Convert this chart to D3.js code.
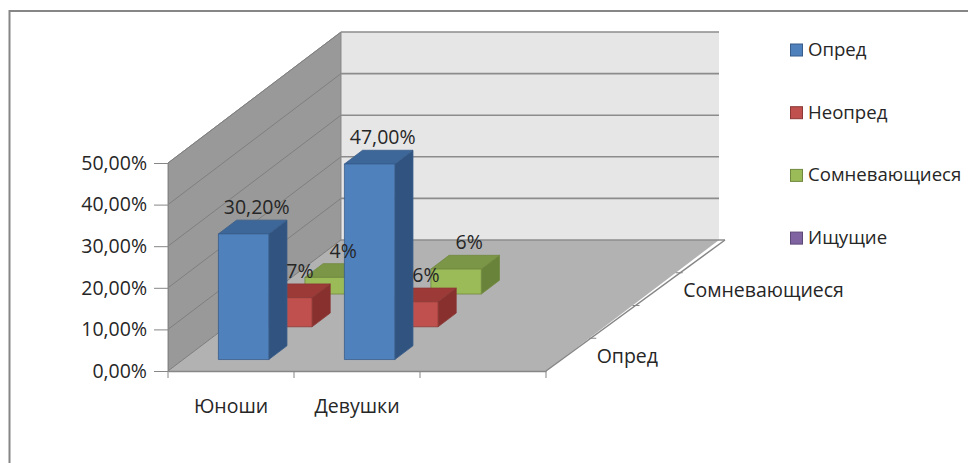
<!DOCTYPE html>
<html>
<head>
<meta charset="utf-8">
<script src="https://cdn.jsdelivr.net/npm/d3@7"></script>
<style>
  html, body { margin: 0; padding: 0; background: #fff; }
  svg { display: block; font-family: "Open Sans", sans-serif; }
</style>
</head>
<body>
<svg width="968" height="463"></svg>
<script>
// categories along the front axis (third slot is empty)
var categories = ["Юноши", "Девушки", ""];
// series run front-to-back along the depth axis
var seriesNames = ["Опред", "Неопред", "Сомневающиеся", "Ищущие"];
var opred = [30.2, 47, null];
var neopred = [7, 6, null];
var somnev = [4, 6, null];
var ishchut = [null, null, null];
var seriesDecimals = [2, 0, 0, 0];
var yTicks = [0, 10, 20, 30, 40, 50];

var seriesValues = [opred, neopred, somnev, ishchut];

var colors = [
  { front: "#4f81bd", top: "#3d6798", side: "#30547f", line: "#385d8a" },
  { front: "#c0504d", top: "#9c3a37", side: "#87302e", line: "#8c3836" },
  { front: "#9bbb59", top: "#7b9646", side: "#6a833a", line: "#71893f" },
  { front: "#8064a2", top: "#654e82", side: "#57426f", line: "#5c4776" }
];
var FS = 19.5;
var textColor = "#262626";

var svg = d3.select("svg");

// outer frame
svg.append("rect")
  .attr("x", 9.5).attr("y", 11)
  .attr("width", 1000).attr("height", 500)
  .attr("fill", "none")
  .attr("stroke", "#868686")
  .attr("stroke-width", 2);

var x = d3.scaleBand().domain(d3.range(categories.length)).range([168, 546]);
var y = d3.scaleLinear().domain([0, 50]).range([371, 163]);
// depth slots -> screen offset
var depth = d3.scaleLinear().domain([0, seriesNames.length]).range([0, 1]);
var depthDx = 173, depthDy = -131;

function P(px, v, t) {
  var f = depth(t);
  return [px + f * depthDx, y(v) + f * depthDy];
}
function poly(pts) {
  return "M" + pts.map(function(p) { return p[0] + "," + p[1]; }).join("L") + "Z";
}

var x0 = x.range()[0], x1 = x.range()[1], nD = seriesNames.length;

// side wall
svg.append("path")
  .attr("d", poly([P(x0, 0, 0), P(x0, 50, 0), P(x0, 50, nD), P(x0, 0, nD)]))
  .attr("fill", "#999999")
  .attr("stroke", "#8a8a8a");

// back wall
svg.append("path")
  .attr("d", poly([P(x0, 0, nD), P(x0, 50, nD), P(x1, 50, nD), P(x1, 0, nD)]))
  .attr("fill", "#e6e6e6");

// floor
svg.append("path")
  .attr("d", poly([P(x0, 0, 0), P(x1, 0, 0), P(x1, 0, nD), P(x0, 0, nD)]))
  .attr("fill", "#b2b2b2");

// gridlines on both walls
var grid = svg.append("g");
yTicks.forEach(function(v) {
  var a = P(x0, v, 0), b = P(x0, v, nD), c = P(x1, v, nD);
  grid.append("line")
    .attr("x1", a[0]).attr("y1", a[1]).attr("x2", b[0]).attr("y2", b[1])
    .attr("stroke", "#7f7f7f").attr("stroke-width", 1);
  grid.append("line")
    .attr("x1", b[0]).attr("y1", b[1]).attr("x2", c[0] + (v === 0 ? 6 : 0)).attr("y2", c[1])
    .attr("stroke", "#8c8c8c").attr("stroke-width", 1.6);
});
// back wall left edge
(function() {
  var a = P(x0, 0, nD), b = P(x0, 50, nD);
  grid.append("line")
    .attr("x1", a[0]).attr("y1", a[1]).attr("x2", b[0]).attr("y2", b[1])
    .attr("stroke", "#8c8c8c");
})();

// y axis
svg.append("g")
  .attr("transform", "translate(" + x0 + ",0)")
  .call(d3.axisLeft(y).tickValues(yTicks).tickSize(14).tickPadding(7)
    .tickFormat(function(d) { return d.toFixed(2).replace(".", ",") + "%"; }))
  .call(function(g) {
    g.select(".domain").attr("stroke", "#868686");
    g.selectAll(".tick line").attr("stroke", "#868686");
    g.selectAll("text").attr("font-size", FS)
      .attr("font-family", "Open Sans").attr("fill", textColor);
  });

// x axis
svg.append("g")
  .attr("transform", "translate(0," + y(0) + ")")
  .call(d3.axisBottom(x).tickSize(0).tickFormat(function(i) { return categories[i]; }))
  .call(function(g) {
    g.select(".domain").attr("stroke", "#868686").attr("stroke-width", 1.5);
    g.selectAll("text").attr("dy", "2em").attr("font-size", FS)
      .attr("font-family", "Open Sans").attr("fill", textColor);
  });
// x tick marks sit on the category boundaries
svg.append("g").selectAll("line")
  .data(d3.range(categories.length + 1))
  .join("line")
  .attr("x1", function(i) { return x0 + i * x.step(); })
  .attr("x2", function(i) { return x0 + i * x.step(); })
  .attr("y1", y(0)).attr("y2", y(0) + 7)
  .attr("stroke", "#868686");

// depth axis: floor's right edge with ticks and labels
(function() {
  var a = P(x1, 0, 0), b = P(x1, 0, nD);
  svg.append("line")
    .attr("x1", a[0]).attr("y1", a[1]).attr("x2", b[0] + 6).attr("y2", b[1])
    .attr("stroke", "#868686").attr("stroke-width", 1.5);
  d3.range(1, nD).forEach(function(t) {
    var p = P(x1, 0, t);
    svg.append("line")
      .attr("x1", p[0]).attr("y1", p[1]).attr("x2", p[0] + 7).attr("y2", p[1])
      .attr("stroke", "#868686");
  });
  seriesNames.forEach(function(name, t) {
    if (t % 2) return; // every other label, as in the axis layout
    var p = P(x1, 0, t + 0.5);
    svg.append("text")
      .attr("x", p[0] + 29).attr("y", p[1] + 3)
      .attr("dominant-baseline", "middle")
      .attr("font-size", FS).attr("fill", textColor)
      .text(name);
  });
})();

// bars, back rows first so front ones cover them
var bars = [];
seriesValues.forEach(function(vals, s) {
  vals.forEach(function(v, c) {
    if (v != null) bars.push({ s: s, c: c, v: v });
  });
});
bars.sort(function(a, b) { return b.s - a.s || a.c - b.c; });

var bw = x.bandwidth();
var gBars = svg.append("g");
bars.forEach(function(d) {
  var bx0 = x(d.c) + bw * 0.28, bx1 = bx0 + bw * 0.4;
  var t0 = d.s + 0.35, t1 = d.s + 0.77;
  var col = colors[d.s];
  var g = gBars.append("g").attr("stroke", col.line).attr("stroke-width", 0.8)
    .attr("stroke-linejoin", "round");
  g.append("path")
    .attr("d", poly([P(bx1, 0, t0), P(bx1, 0, t1), P(bx1, d.v, t1), P(bx1, d.v, t0)]))
    .attr("fill", col.side);
  g.append("path")
    .attr("d", poly([P(bx0, d.v, t0), P(bx1, d.v, t0), P(bx1, d.v, t1), P(bx0, d.v, t1)]))
    .attr("fill", col.top);
  g.append("path")
    .attr("d", poly([P(bx0, 0, t0), P(bx1, 0, t0), P(bx1, d.v, t0), P(bx0, d.v, t0)]))
    .attr("fill", col.front);
});

// value labels above each bar
bars.forEach(function(d) {
  var c = P(x(d.c) + bw * 0.48, d.v, d.s + 0.56);
  svg.append("text")
    .attr("x", c[0] + 4).attr("y", c[1] - 18)
    .attr("text-anchor", "middle")
    .attr("dominant-baseline", "middle")
    .attr("font-size", FS).attr("fill", textColor)
    .text(d.v.toFixed(seriesDecimals[d.s]).replace(".", ",") + "%");
});

// legend
var legend = svg.append("g").attr("transform", "translate(790,50)");
seriesNames.forEach(function(name, i) {
  var row = legend.append("g").attr("transform", "translate(0," + i * 62.7 + ")");
  row.append("rect")
    .attr("x", 0.5).attr("y", -6).attr("width", 12).attr("height", 12)
    .attr("fill", colors[i].front).attr("stroke", colors[i].line);
  row.append("text")
    .attr("x", 18).attr("y", 1)
    .attr("dominant-baseline", "middle")
    .attr("font-size", 18.6).attr("fill", textColor)
    .text(name);
});
</script>
</body>
</html>
